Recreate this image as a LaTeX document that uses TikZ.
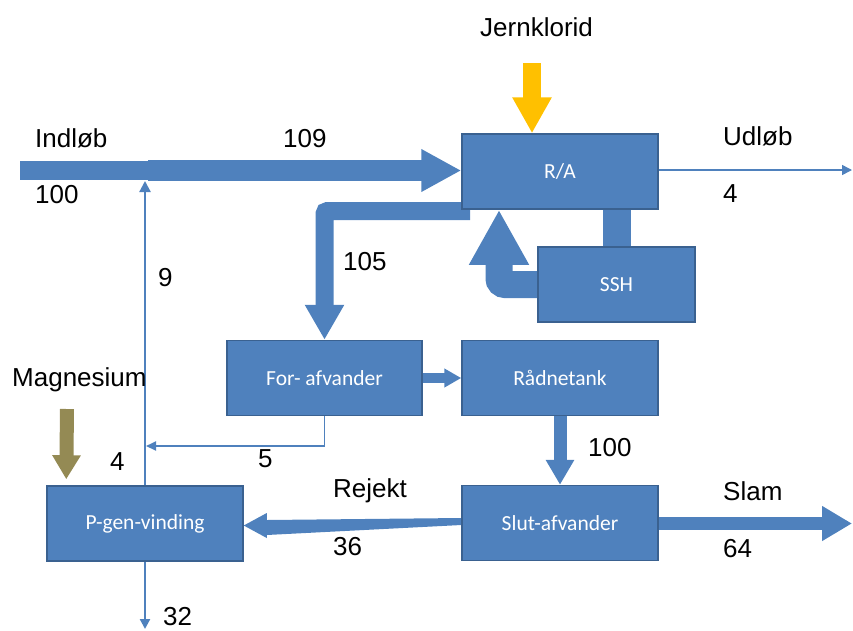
\documentclass[tikz,border=0pt]{standalone}
\usepackage{fontspec}
\setmainfont{Liberation Sans}
\newfontfamily\boxfont{Carlito}
\usetikzlibrary{arrows.meta,calc}
\definecolor{flowblue}{HTML}{4F81BD}
\definecolor{edgeblue}{HTML}{3A6190}
\definecolor{ferric}{HTML}{FFC000}
\definecolor{magnes}{HTML}{948A54}
\pgfdeclarelayer{bg}
\pgfsetlayers{bg,main}
\tikzset{
  procbox/.style={rectangle, fill=flowblue, draw=edgeblue, line width=1.5pt,
    minimum width=196pt, minimum height=75pt, inner sep=0pt, text=white,
    font=\boxfont\fontsize{21.5}{24}\selectfont},
  lbl/.style={anchor=base west, inner sep=0pt, font=\fontsize{26}{30}\selectfont},
  band/.style={draw=flowblue, line cap=butt},
  pipe/.style={draw=flowblue, line width=2pt, -{Triangle[length=10pt,width=10pt]}},
}
\begin{document}
\begin{tikzpicture}[x=1pt,y=-1pt]
\useasboundingbox (0,0) rectangle (853,630);

% process units
\node[procbox] (ra) at (560,171.5) {R/A};
\node[procbox, minimum width=157pt] (ssh) at (616.5,284.5) {SSH};
\node[procbox, minimum width=195pt] (fa) at (324.5,378) {For- afvander};
\node[procbox] (rt) at (560,378) {Rådnetank};
\node[procbox] (sa) at (560,523) {Slut-afvander};
\node[procbox] (pg) at (145,523.5) {P-gen-vinding};

\begin{pgfonlayer}{bg}
% inflow, widened after the return stream joins
\coordinate (inl) at (20,170.5);
\coordinate (mix) at (148,170.5);
\draw[band, line width=19pt] (inl) -- (mix);
\draw[band, line width=20.5pt, -{Triangle[length=40pt,width=40pt]}] (mix) -- (mix -| ra.west);

% outflow
\coordinate (udl) at (852,170);
\draw[pipe, line width=1.5pt] (ra.east |- udl) -- (udl);

% ferric chloride dosing
\coordinate (fe) at (532,63);
\draw[draw=ferric, line width=18pt, -{Triangle[length=36pt,width=37pt]}] (fe) -- (fe |- ra.north);

% R/A to SSH
\draw[band, line width=28pt] (ssh.north) -- (ssh.north |- ra.south);

% SSH recirculation
\coordinate (rc) at (499,284.5);
\draw[band, line width=27pt, rounded corners=6pt, -{Triangle[length=55pt,width=56pt]}]
  (ssh.west) -- (rc) -- (rc |- ra.south);

% surplus sludge to pre-dewatering
\coordinate (fb) at (470,211);
\draw[band, line width=18pt, rounded corners=3pt, -{Triangle[length=35pt,width=37pt]}]
  (fb) -- (fb -| fa.north) -- (fa.north);

% pre-dewatering to digester
\draw[band, line width=10pt, -{Triangle[length=17pt,width=18pt]}] (fa.east) -- (rt.west);

% filtrate back to inlet
\coordinate (m5) at (146,446);
\draw[pipe, line width=1.8pt, -{Triangle[length=10pt,width=9pt]}] (fa.south) -- (fa.south |- m5) -- (m5);
\coordinate (jb) at (145,181);
\draw[pipe, line width=2.2pt, -{Triangle[length=11pt,width=11pt]}] (pg.north) -- (jb);

% digester to final dewatering
\draw[band, line width=13pt, -{Triangle[length=25pt,width=27pt]}] (rt.south) -- (sa.north);

% reject water (tapered)
\fill[flowblue] ($(sa.west)+(0,-5)$) -- ($(sa.west)+(0,2)$) -- ($(pg.east)+(23,11.5)$)
  -- ($(pg.east)+(23,14.5)$) -- ($(pg.east)+(0,2)$) -- ($(pg.east)+(23,-10.5)$)
  -- ($(pg.east)+(23,-3.5)$) -- cycle;

% sludge out
\coordinate (slam) at (852,523.5);
\draw[band, line width=13pt, -{Triangle[length=30pt,width=33pt]}] (sa.east |- slam) -- (slam);

% recovered phosphorus
\coordinate (po) at (145,629);
\draw[pipe, line width=2.2pt, -{Triangle[length=10pt,width=10pt]}] (pg.south) -- (po);

% magnesium dosing
\coordinate (mg) at (67,409);
\draw[draw=magnes, line width=14pt, -{Triangle[length=24pt,width=27pt]}] (mg) -- ($(pg.north west)+(20,-6)$);
\end{pgfonlayer}

% labels
\node[lbl] (tjk) at (480,36) {Jernklorid};
\node[lbl] (tin) at (35,147) {Indløb};
\node[lbl] (t109) at (283,147) {109};
\node[lbl] (t100a) at (35,203) {100};
\node[lbl] (tud) at (723,145) {Udløb};
\node[lbl] (t4a) at (723,202) {4};
\node[lbl] (t105) at (343,270) {105};
\node[lbl] (t9) at (158,286) {9};
\node[lbl] (tmg) at (12,386) {Magnesium};
\node[lbl] (t4b) at (110,470) {4};
\node[lbl] (t5) at (258,467) {5};
\node[lbl] (t100b) at (588,456) {100};
\node[lbl] (trj) at (333,497) {Rejekt};
\node[lbl] (t36) at (333,555) {36};
\node[lbl] (tsl) at (723,500) {Slam};
\node[lbl] (t64) at (723,557) {64};
\node[lbl] (t32) at (163,625) {32};
\end{tikzpicture}
\end{document}
